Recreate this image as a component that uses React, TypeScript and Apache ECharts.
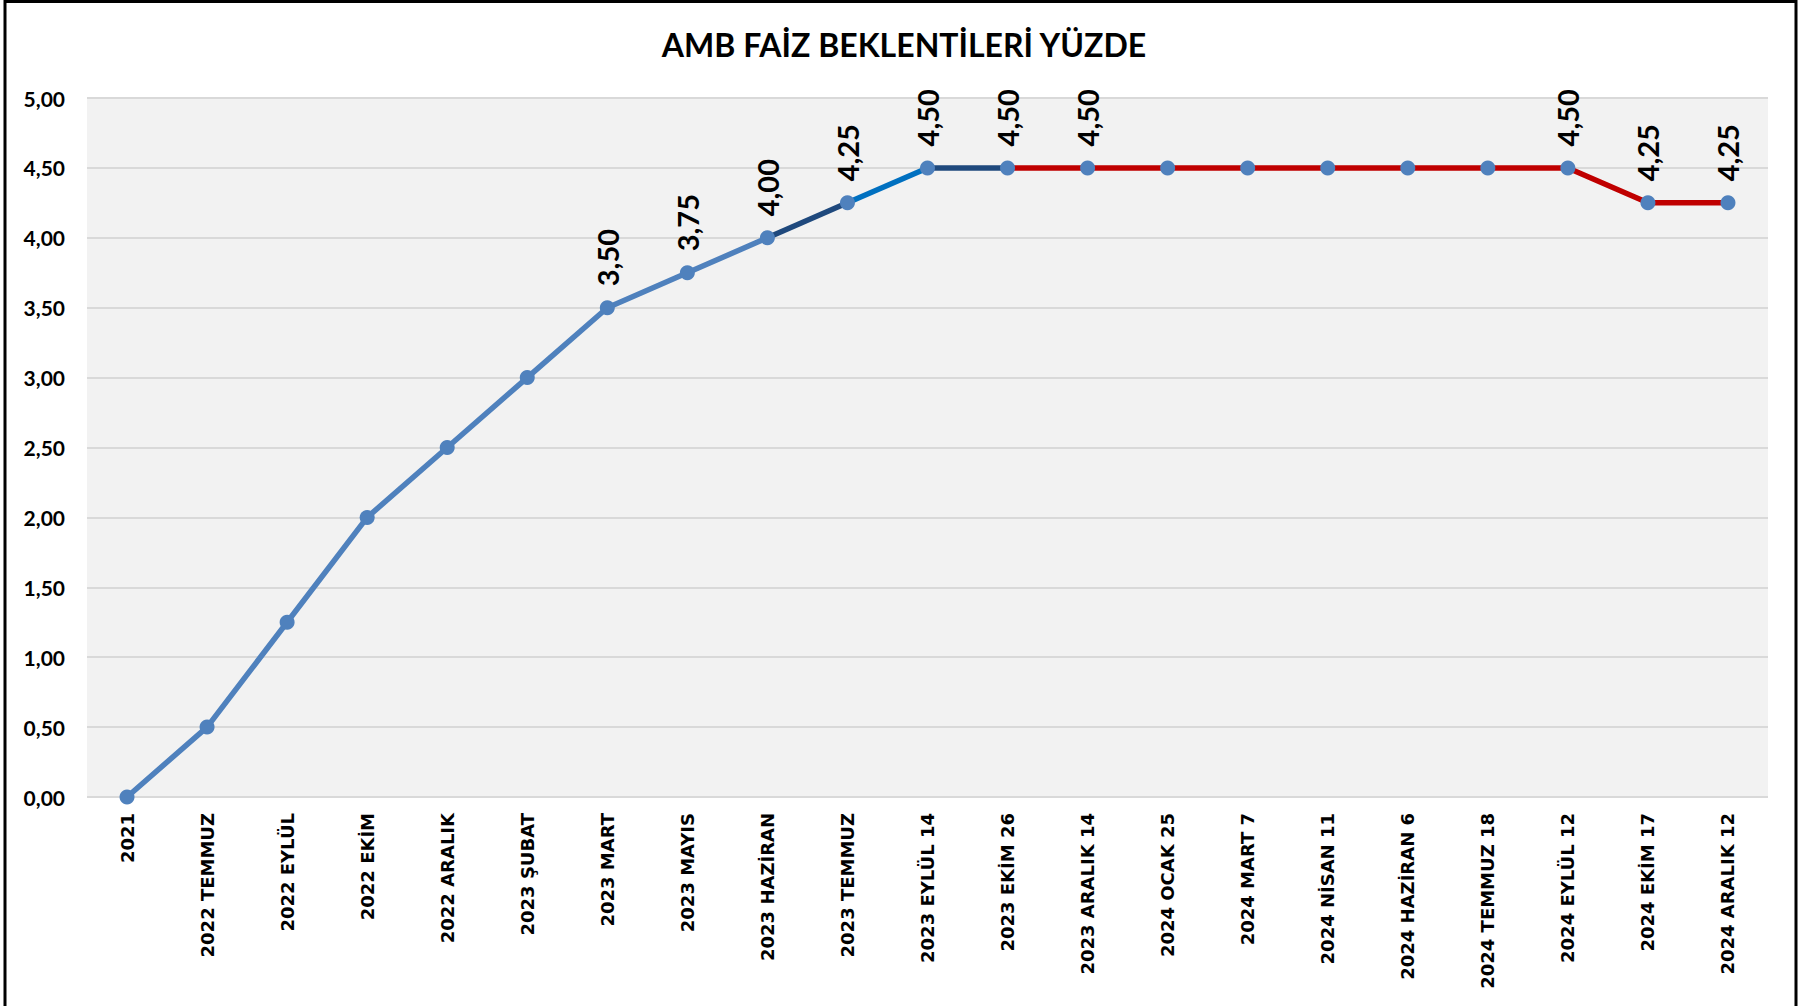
import React, { useEffect, useRef } from "react";
import * as echarts from "echarts";

const titleText = "AMB FAİZ BEKLENTİLERİ YÜZDE";

const categories = [
  "2021",
  "2022 TEMMUZ",
  "2022 EYLÜL",
  "2022 EKİM",
  "2022 ARALIK",
  "2023 ŞUBAT",
  "2023 MART",
  "2023 MAYIS",
  "2023 HAZİRAN",
  "2023 TEMMUZ",
  "2023 EYLÜL 14",
  "2023 EKİM 26",
  "2023 ARALIK 14",
  "2024 OCAK 25",
  "2024 MART 7",
  "2024 NİSAN 11",
  "2024 HAZİRAN 6",
  "2024 TEMMUZ 18",
  "2024 EYLÜL 12",
  "2024 EKİM 17",
  "2024 ARALIK 12",
];

const values = [0, 0.5, 1.25, 2, 2.5, 3, 3.5, 3.75, 4, 4.25, 4.5, 4.5, 4.5, 4.5, 4.5, 4.5, 4.5, 4.5, 4.5, 4.25, 4.25];

const labeledIndices = [6, 7, 8, 9, 10, 11, 12, 18, 19, 20];

const yMin = 0;
const yMax = 5;
const yStep = 0.5;

// line segments: [startIndex, endIndex, colour]
const segmentStarts = [0, 8, 9, 10, 11];
const segmentEnds = [8, 9, 10, 11, 20];
const segmentColors = ["#4F81BD", "#1F497D", "#0070C0", "#1F497D", "#C00000"];

const fmt = (v: number) => v.toFixed(2).replace(".", ",");

export default function App() {
  const ref = useRef<HTMLDivElement>(null);

  useEffect(() => {
    if (!ref.current) return;
    const chart = echarts.init(ref.current, undefined, { renderer: "svg" });

    const segmentSeries = segmentStarts.map((s, k) => ({
      type: "line" as const,
      data: values.map((v, i) => (i >= s && i <= segmentEnds[k] ? v : "-")),
      showSymbol: false,
      symbol: "none",
      lineStyle: { color: segmentColors[k], width: 5.5 },
      z: 2,
      silent: true,
    }));

    const markerSeries = {
      type: "line" as const,
      data: values.map((v, i) => ({
        value: v,
        label: { show: labeledIndices.includes(i) },
      })),
      symbol: "circle",
      symbolSize: 15,
      itemStyle: { color: "#4F81BD" },
      lineStyle: { width: 0, opacity: 0 },
      z: 5,
      label: {
        show: false,
        position: "top",
        distance: 14,
        rotate: 90,
        align: "left",
        verticalAlign: "middle",
        fontFamily: "Lato",
        fontWeight: "bold",
        fontSize: 29,
        color: "#000000",
        formatter: (p: any) => fmt(p.value),
      },
    };

    chart.setOption({
      animation: false,
      backgroundColor: "#ffffff",
      title: {
        text: titleText,
        left: "center",
        top: 23,
        textStyle: {
          fontFamily: "Lato",
          fontWeight: "bold",
          fontSize: 32,
          color: "#000000",
        },
      },
      grid: {
        left: 87,
        right: 40,
        top: 98,
        bottom: 209,
        show: true,
        backgroundColor: "#F2F2F2",
        borderWidth: 0,
        containLabel: false,
      },
      xAxis: {
        type: "category",
        data: categories,
        boundaryGap: true,
        axisLine: { show: false },
        axisTick: { show: false },
        axisLabel: {
          rotate: 90,
          margin: 16,
          interval: 0,
          fontFamily: "DejaVu Sans",
          fontWeight: "bold",
          fontSize: 18,
          color: "#000000",
        },
      },
      yAxis: {
        type: "value",
        min: yMin,
        max: yMax,
        interval: yStep,
        axisLine: { show: false },
        axisTick: { show: false },
        splitLine: { lineStyle: { color: "#D9D9D9", width: 2 } },
        axisLabel: {
          margin: 22,
          fontFamily: "Lato",
          fontWeight: "bold",
          fontSize: 21,
          color: "#000000",
          formatter: (v: number) => fmt(v),
        },
      },
      graphic: [
        {
          type: "rect",
          shape: { x: 5, y: 1.5, width: 1791, height: 1020 },
          style: { fill: "none", stroke: "#000000", lineWidth: 3 },
          z: 100,
          silent: true,
        },
      ],
      series: [...segmentSeries, markerSeries],
    });

    return () => chart.dispose();
  }, []);

  return (
    <div
      ref={ref}
      style={{ position: "fixed", left: 0, top: 0, width: 1808, height: 1006 }}
    />
  );
}
